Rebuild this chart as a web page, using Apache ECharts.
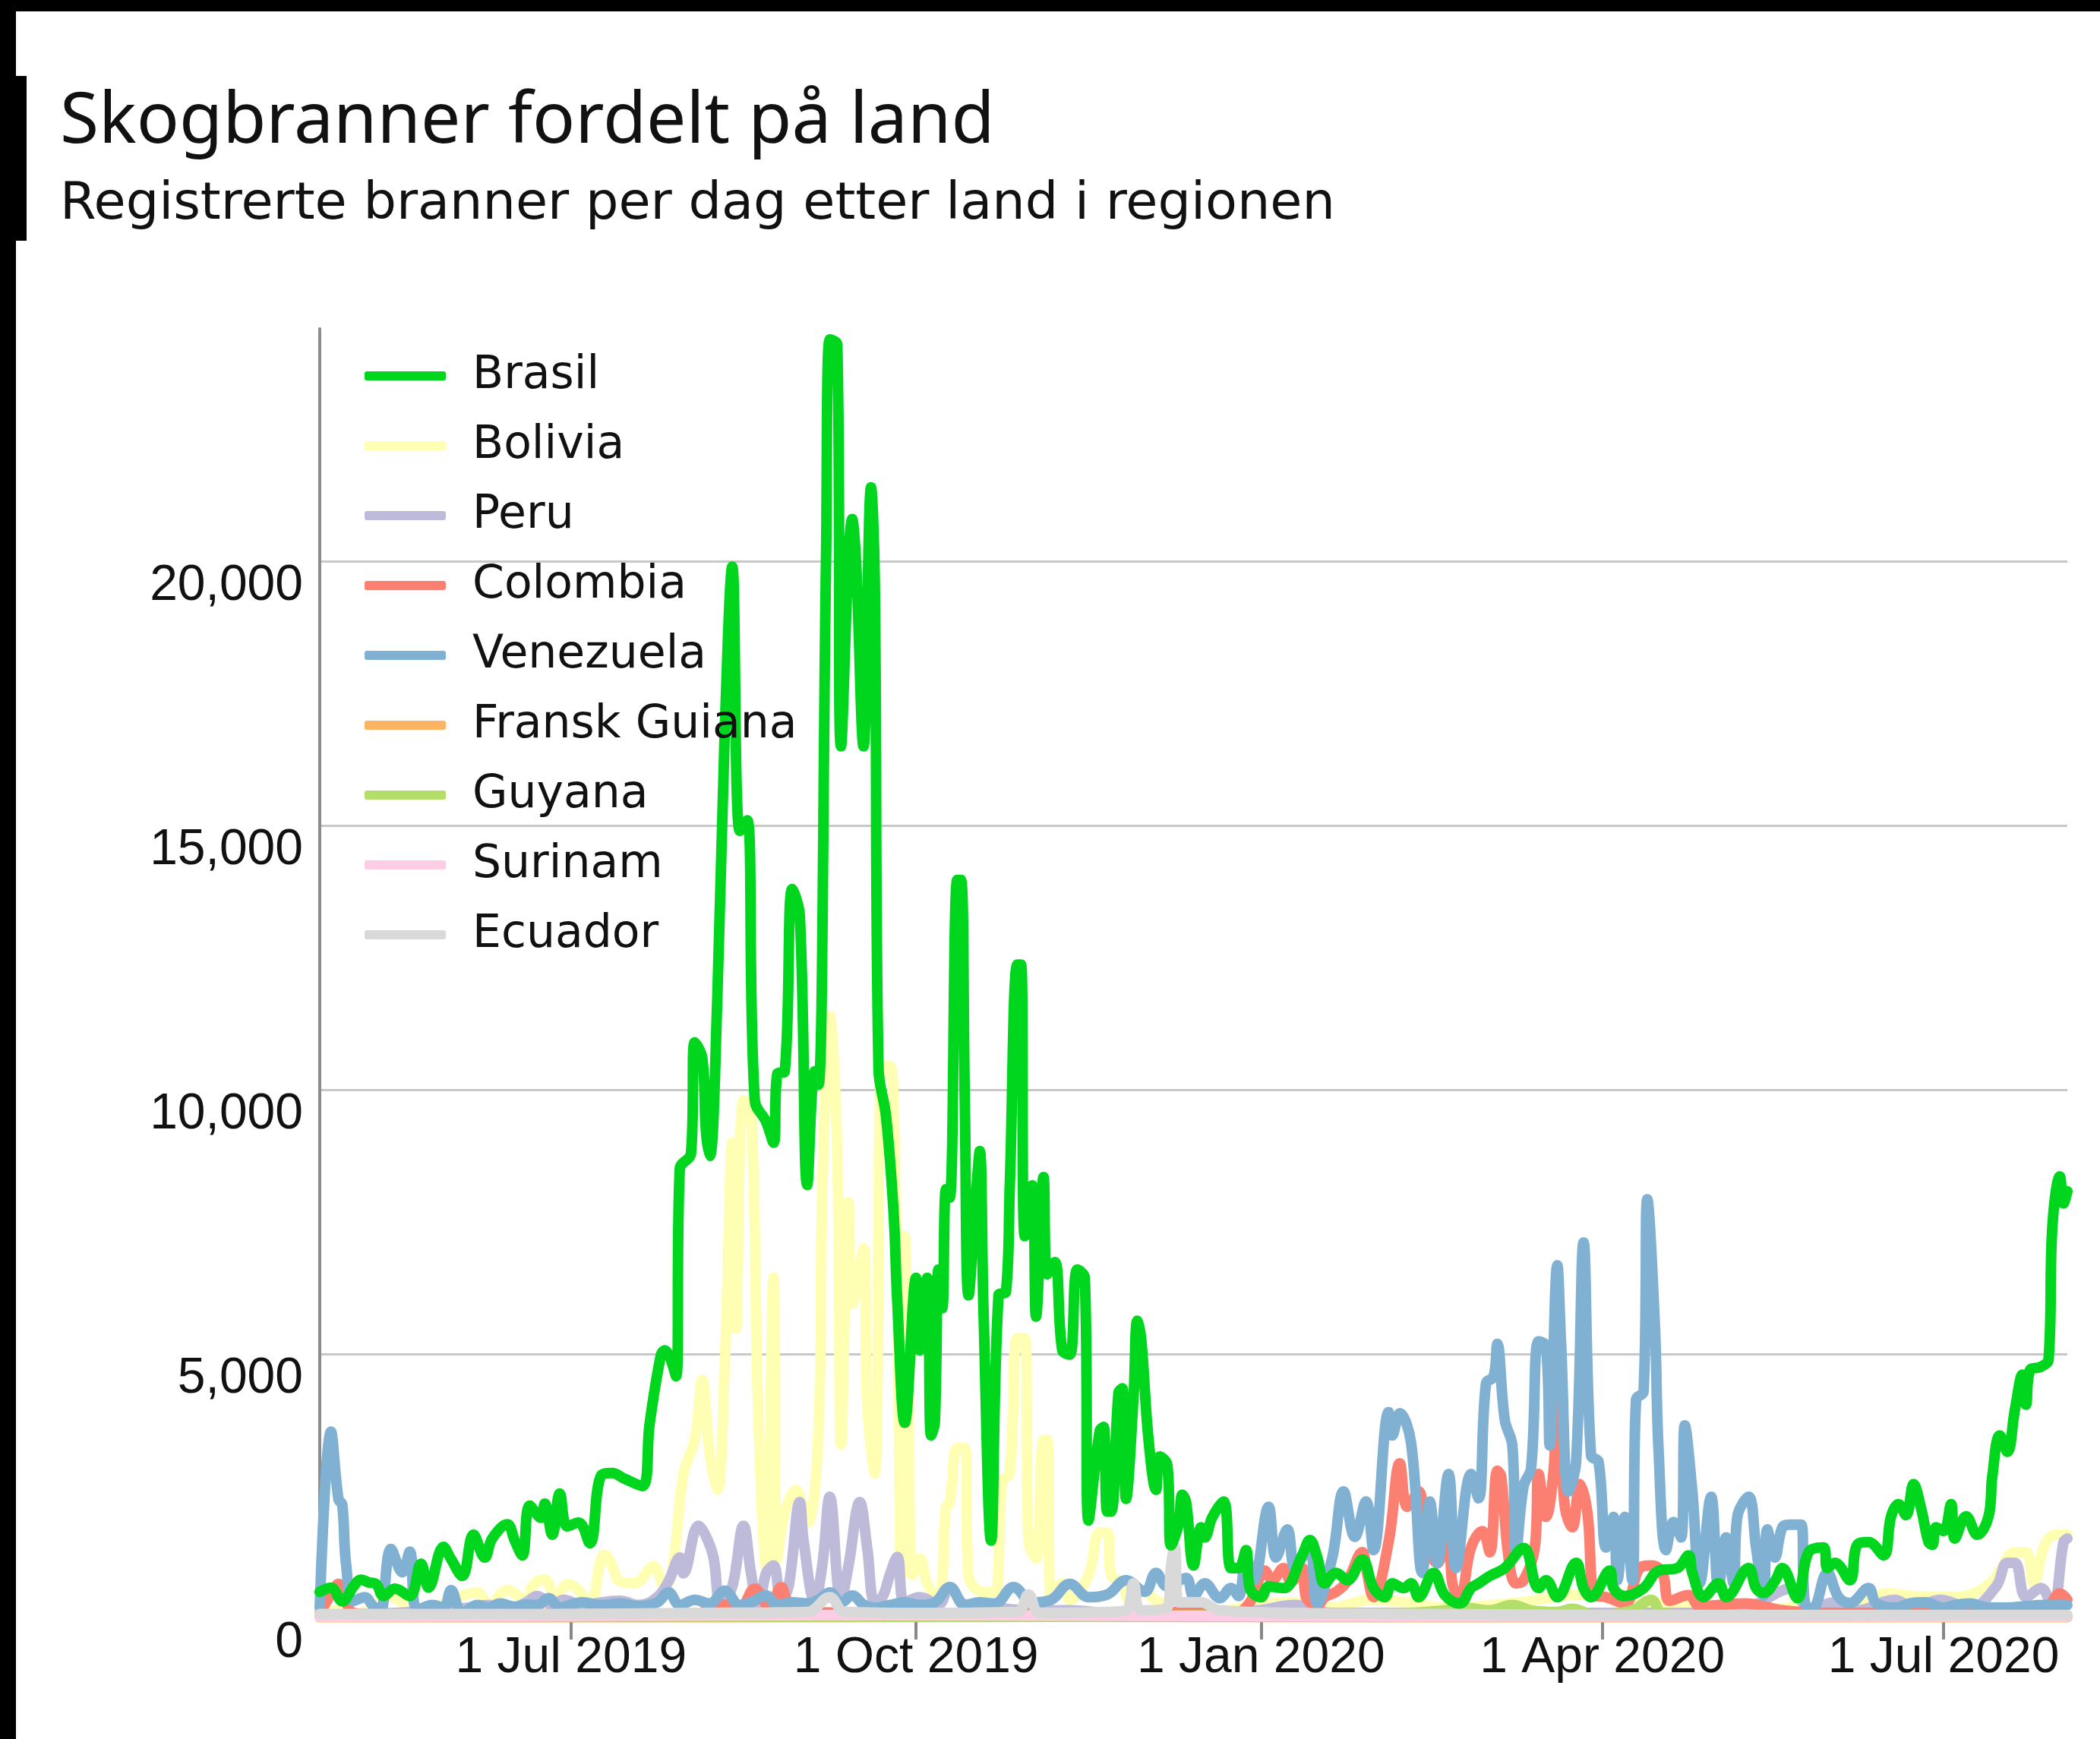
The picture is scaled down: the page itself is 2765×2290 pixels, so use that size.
<!DOCTYPE html>
<html>
<head>
<meta charset="utf-8">
<script src="https://cdn.jsdelivr.net/npm/echarts@6/dist/echarts.min.js"></script>
<style>
  html, body { margin: 0; padding: 0; background: #fff; }
  #chart { width: 2765px; height: 2290px; }
</style>
</head>
<body>
<div id="chart"></div>
<script>
// daily fire counts as [days since 25 Apr 2019, fires]
const startDate = new Date(2019, 3, 25).getTime();
const lastDay = 466;
const DAY = 86400000;

const countries = ['Brasil', 'Bolivia', 'Peru', 'Colombia', 'Venezuela', 'Fransk Guiana', 'Guyana', 'Surinam', 'Ecuador'];
const colors = ['#00d61e', '#ffffb3', '#bebada', '#fb8072', '#80b1d3', '#fdb462', '#b3de69', '#fccde5', '#d9d9d9'];
const monthNames = ['Jan', 'Feb', 'Mar', 'Apr', 'May', 'Jun', 'Jul', 'Aug', 'Sep', 'Oct', 'Nov', 'Dec'];

const brasil = [[0,500],[3,580],[6,320],[9,600],[11,730],[13,680],[15,650],[17,420],[20,560],[24,420],[27,1030],[29,580],[33,1350],[35,1120],[38,800],[41,1580],[44,1150],[46,1510],[50,1780],[52,1470],[54,1190],[56,2130],[59,1900],[60,2170],[62,1580],[64,2360],[66,1740],[69,1810],[72,1420],[75,2700],[78,2750],[81,2650],[86,2500],[88,3700],[91,4990],[92,5070],[95,4580],[96,8500],[99,8800],[100,10900],[102,10600],[103,9200],[104,8750],[106,11700],[108,16800],[110,19900],[112,14900],[114,15100],[116,9800],[119,9400],[121,9000],[122,10300],[124,10350],[126,13800],[128,13300],[130,8200],[132,10350],[133,10100],[135,20000],[136,24200],[138,24100],[139,16500],[142,20800],[143,20000],[145,16500],[147,21400],[148,19600],[149,10400],[151,9500],[153,7700],[154,6000],[156,3700],[159,6440],[160,5070],[162,6440],[163,3460],[164,3700],[165,6600],[166,5870],[167,8120],[168,7960],[170,13970],[171,13970],[172,9800],[173,6110],[175,8030],[176,8840],[177,5790],[179,1470],[181,6110],[183,6180],[184,8190],[186,12370],[187,12370],[188,7230],[190,8190],[191,5710],[193,8350],[194,6510],[196,6740],[198,5070],[200,4990],[202,6600],[204,6440],[205,1850],[208,3550],[209,3620],[210,2020],[211,2020],[213,4270],[214,4350],[215,2260],[217,4190],[218,5630],[219,5310],[221,3380],[223,2430],[224,3060],[226,2900],[227,1380],[229,1780],[230,2340],[231,2200],[233,1000],[235,1720],[236,1530],[238,1910],[241,2210],[243,950],[245,950],[247,1290],[248,570],[251,400],[253,600],[257,570],[262,1200],[264,1480],[266,1150],[268,660],[271,860],[274,720],[278,1110],[281,570],[284,400],[286,660],[289,570],[291,660],[293,400],[297,860],[300,440],[304,280],[307,570],[309,660],[312,800],[316,950],[321,1330],[325,570],[327,720],[330,400],[335,1050],[337,570],[339,400],[344,900],[345,570],[348,420],[353,570],[357,900],[362,950],[365,1190],[366,860],[369,400],[373,660],[375,400],[381,950],[383,570],[385,480],[388,700],[390,950],[394,380],[397,1250],[401,1340],[402,950],[404,1050],[408,720],[410,1390],[413,1440],[417,1190],[419,1930],[421,2160],[423,1950],[425,2540],[427,2080],[429,1440],[430,1390],[431,1720],[433,1650],[435,2160],[436,1510],[439,1930],[442,1580],[445,1930],[446,2690],[448,3460],[450,3150],[452,3940],[454,4610],[455,4040],[456,4690],[459,4760],[461,4900],[462,7400],[464,8360],[465,7850],[466,8080]];

const bolivia = [[0,100],[5,150],[10,100],[16,300],[18,420],[21,350],[25,150],[30,200],[35,350],[42,490],[45,250],[50,530],[55,350],[57,640],[60,730],[63,400],[66,640],[68,600],[72,300],[75,1120],[76,1200],[78,980],[80,700],[84,660],[89,980],[92,600],[94,900],[97,2740],[100,3380],[102,4510],[104,3100],[106,2430],[108,4800],[110,9000],[111,5480],[113,9800],[115,9650],[117,3710],[119,980],[121,6440],[122,1130],[124,2000],[127,2430],[130,1800],[133,3570],[134,8030],[136,11400],[138,8840],[139,3290],[141,7870],[142,5950],[145,7000],[146,4030],[148,2740],[150,10450],[152,10450],[153,9650],[154,6220],[155,820],[156,7230],[157,4030],[158,820],[160,1130],[162,660],[165,340],[167,2100],[168,2180],[170,3220],[172,3220],[173,820],[177,500],[180,500],[182,2590],[184,2740],[186,5300],[188,5300],[189,1460],[191,1130],[193,3380],[194,3380],[195,340],[198,660],[200,340],[205,820],[208,1620],[210,1620],[211,820],[214,660],[216,340],[220,500],[223,340],[230,200],[240,150],[250,250],[260,300],[270,200],[280,350],[290,300],[300,200],[320,300],[335,440],[340,440],[350,250],[360,300],[380,150],[400,250],[410,300],[418,470],[425,420],[435,400],[441,470],[446,700],[448,900],[452,1250],[455,1250],[457,660],[460,1390],[463,1580],[466,1580]];

const peru = [[0,50],[10,80],[20,100],[30,150],[40,200],[45,250],[50,150],[55,300],[58,420],[62,250],[65,350],[70,250],[75,300],[80,330],[85,250],[90,400],[93,700],[96,1150],[97,850],[101,1750],[103,1550],[105,1150],[107,200],[110,600],[113,1750],[115,850],[117,200],[119,850],[121,1000],[123,330],[125,600],[128,2200],[129,1470],[132,330],[134,1000],[136,2300],[139,330],[141,1000],[144,2200],[146,1320],[148,330],[150,400],[152,820],[154,1160],[156,300],[160,400],[165,260],[168,590],[172,260],[180,200],[190,150],[200,150],[210,100],[230,80],[250,150],[260,250],[270,100],[300,100],[330,100],[360,100],[380,200],[393,570],[397,150],[404,300],[410,150],[420,350],[425,200],[432,350],[440,200],[447,600],[450,1050],[452,1050],[455,400],[459,570],[462,200],[465,1440],[466,1510]];

const colombia = [[0,100],[3,450],[5,650],[7,300],[9,100],[15,60],[25,50],[40,60],[60,80],[80,60],[100,80],[108,260],[112,200],[116,560],[120,200],[123,590],[125,300],[130,120],[150,100],[180,80],[210,100],[230,120],[244,100],[248,300],[252,900],[254,720],[257,950],[259,690],[262,950],[263,400],[266,240],[268,400],[271,500],[274,700],[278,1250],[279,950],[281,400],[285,1440],[288,2930],[290,2110],[293,2400],[295,1440],[298,1040],[301,1720],[302,660],[304,400],[307,1340],[310,1650],[312,1250],[314,2790],[315,2700],[317,1150],[319,660],[321,720],[324,1340],[325,2730],[327,1920],[329,2790],[330,4230],[332,2110],[334,1720],[336,2540],[338,2010],[340,440],[343,400],[348,280],[352,950],[355,1000],[358,860],[360,330],[365,440],[368,230],[380,280],[390,150],[400,100],[420,100],[440,120],[455,150],[461,250],[464,470],[466,350]];

const venezuela = [[0,200],[3,3530],[5,2250],[6,2150],[7,1040],[9,330],[12,400],[14,250],[16,100],[19,1310],[22,870],[24,1260],[26,150],[30,250],[33,200],[35,530],[38,100],[42,250],[45,200],[48,280],[52,220],[55,260],[58,250],[61,380],[64,200],[67,260],[70,300],[75,250],[80,280],[85,230],[90,300],[93,490],[96,250],[100,350],[104,280],[108,520],[112,250],[115,300],[119,430],[122,250],[126,300],[130,280],[133,350],[136,490],[139,300],[142,430],[145,260],[148,200],[152,250],[156,300],[160,250],[164,300],[168,590],[172,250],[176,300],[180,280],[185,590],[190,300],[195,350],[200,650],[205,400],[210,450],[215,720],[220,500],[223,860],[226,600],[231,760],[233,420],[236,660],[240,380],[243,570],[245,420],[247,1150],[249,720],[253,2110],[255,1150],[258,1680],[260,950],[262,1150],[264,1440],[266,280],[270,1150],[273,2400],[276,1540],[279,2210],[281,1290],[285,3900],[286,3460],[288,3880],[291,3320],[294,860],[296,2210],[298,1040],[301,2730],[303,950],[307,2730],[309,2270],[311,4450],[313,4570],[314,5190],[316,3750],[318,3270],[319,1250],[321,2500],[323,2840],[325,5240],[327,5150],[328,3270],[330,6680],[331,5200],[333,2400],[335,2960],[337,7110],[339,3080],[341,2960],[343,1340],[345,1920],[346,720],[348,1920],[350,720],[351,4140],[353,4290],[354,7930],[356,5560],[357,3180],[359,1290],[361,1820],[363,1530],[364,3650],[366,2400],[368,660],[371,2300],[373,570],[375,1530],[377,660],[378,1920],[381,2300],[383,1340],[385,420],[386,1680],[388,1150],[390,1720],[392,1770],[395,1770],[396,290],[398,180],[402,860],[405,400],[408,290],[413,570],[415,290],[420,200],[424,280],[428,300],[433,200],[436,250],[440,280],[445,200],[450,200],[455,230],[460,250],[466,250]];

const franskGuiana = [[0,20],[100,20],[200,30],[300,20],[400,20],[466,20]];
const guyana = [[0,80],[10,30],[50,30],[100,40],[150,40],[200,40],[250,60],[290,100],[300,150],[305,200],[312,150],[318,250],[323,150],[330,120],[334,180],[340,60],[350,150],[355,350],[358,100],[370,50],[400,30],[466,30]];
const surinam = [[0,30],[150,60],[250,40],[466,30]];
const ecuador = [[0,80],[30,80],[60,80],[100,100],[130,120],[136,400],[140,120],[160,100],[186,120],[189,450],[192,100],[210,120],[215,150],[217,660],[219,150],[226,200],[227,1000],[228,1350],[229,300],[235,300],[240,150],[260,100],[300,80],[350,60],[400,60],[466,60]];

const seriesData = [brasil, bolivia, peru, colombia, venezuela, franskGuiana, guyana, surinam, ecuador];

const toTime = (rows) => rows.map(([d, v]) => [startDate + d * DAY, v]);
const fmtDate = (t) => { const d = new Date(t); return `${d.getDate()} ${monthNames[d.getMonth()]} ${d.getFullYear()}`; };

const chart = echarts.init(document.getElementById('chart'), null, { renderer: 'canvas' });

chart.setOption({
  animation: false,
  backgroundColor: '#ffffff',
  title: [
    { text: 'Skogbranner fordelt på land', left: 79, top: 115, padding: 0,
      textStyle: { fontFamily: 'Noto Sans', fontSize: 93, fontWeight: 'normal', color: '#111' } },
    { text: 'Registrerte branner per dag etter land i regionen', left: 79, top: 236, padding: 0,
      textStyle: { fontFamily: 'DejaVu Sans', fontSize: 68.5, fontWeight: 'normal', color: '#111' } }
  ],
  graphic: [
    { type: 'rect', shape: { x: 0, y: 0, width: 2765, height: 15 }, style: { fill: '#000' } },
    { type: 'rect', shape: { x: 0, y: 0, width: 21, height: 2290 }, style: { fill: '#000' } },
    { type: 'rect', shape: { x: 0, y: 100, width: 35, height: 217 }, style: { fill: '#000' } }
  ],
  legend: {
    data: countries,
    orient: 'vertical',
    left: 480,
    top: 465,
    padding: 0,
    itemGap: 32,
    itemWidth: 107,
    itemHeight: 12,
    icon: 'roundRect',
    selectedMode: false,
    textStyle: { fontFamily: 'DejaVu Sans', fontSize: 60, color: '#111', lineHeight: 60, padding: [0, 0, 0, 30] }
  },
  grid: { left: 421, right: 43, top: 433, bottom: 159, containLabel: false },
  xAxis: {
    type: 'time',
    min: startDate,
    max: startDate + lastDay * DAY,
    minInterval: 92 * DAY,
    maxInterval: 100 * DAY,
    splitNumber: 5,
    axisLine: { show: true, lineStyle: { color: '#4a4a4a', width: 5 } },
    axisTick: { show: true, length: 28, lineStyle: { color: '#888', width: 4 } },
    axisLabel: { fontFamily: 'Liberation Sans', fontSize: 66, color: '#111', margin: 20, formatter: (v) => fmtDate(v), hideOverlap: false },
    splitLine: { show: false }
  },
  yAxis: {
    type: 'value',
    min: 0,
    max: 24400,
    interval: 5000,
    axisLine: { show: true, lineStyle: { color: '#8c8c8c', width: 4 } },
    axisTick: { show: false },
    axisLabel: { fontFamily: 'Liberation Sans', fontSize: 66, color: '#111', margin: 22, verticalAlign: 'top',
      showMaxLabel: false, formatter: (v) => v.toLocaleString('en-US') },
    splitLine: { show: true, showMinLine: false, showMaxLine: false, lineStyle: { color: '#c8c8c8', width: 3 } }
  },
  series: countries.map((name, i) => ({
    name,
    type: 'line',
    data: toTime(seriesData[i]),
    showSymbol: false,
    smooth: 0.4,
    clip: false,
    z: name === 'Brasil' ? 3 : 2,
    color: colors[i],
    lineStyle: { width: 14, color: colors[i], cap: 'round', join: 'round' },
    emphasis: { disabled: true }
  }))
});
</script>
</body>
</html>
